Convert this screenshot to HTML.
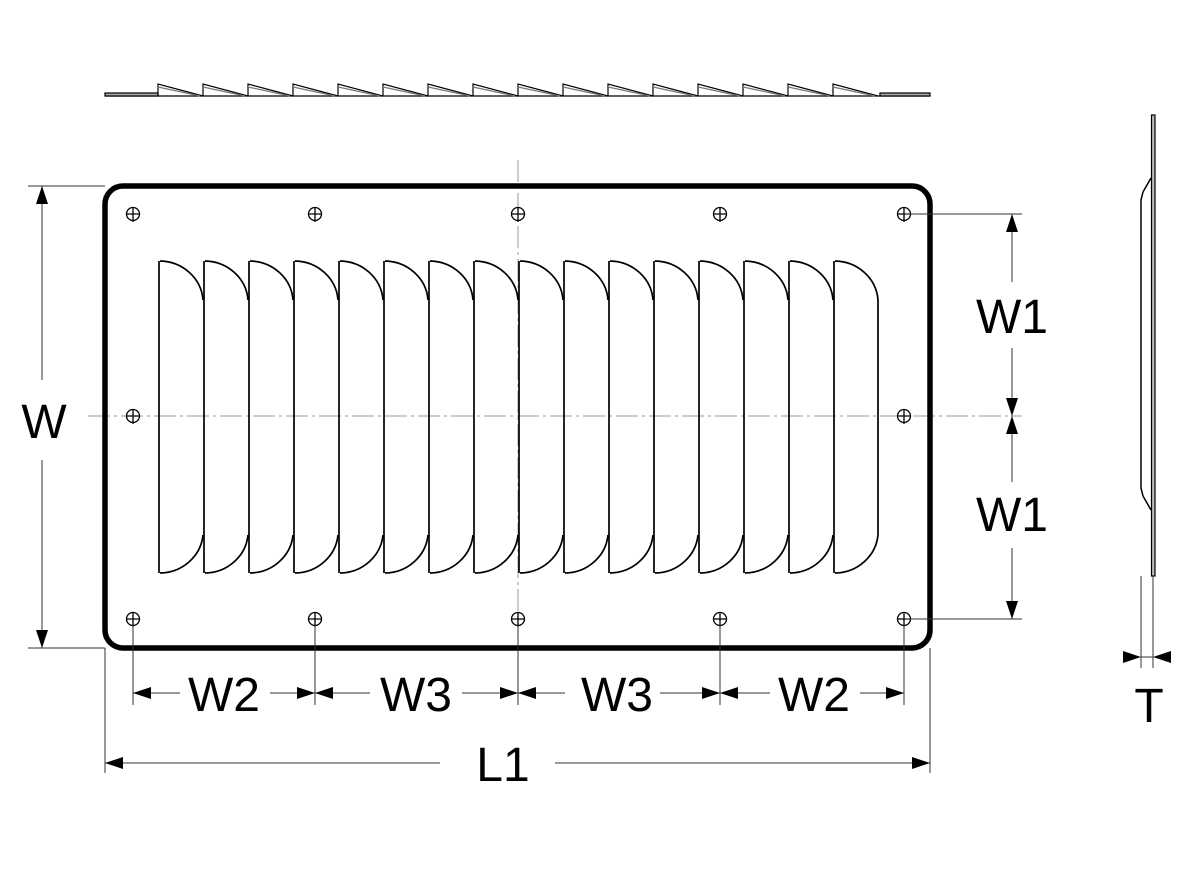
<!DOCTYPE html>
<html><head><meta charset="utf-8"><style>
body{margin:0;background:#fff}
svg{display:block}
text{font-family:"Liberation Sans",sans-serif;font-size:48px;fill:#000;text-anchor:middle}
</style></head><body>
<svg id="s" width="1200" height="880" viewBox="0 0 1200 880" xmlns="http://www.w3.org/2000/svg">
<g fill="none" stroke="#000">
<line x1="518" y1="160" x2="518" y2="662" stroke="#999" stroke-width="1" stroke-dasharray="22,4,3,4"/>
<line x1="88" y1="416" x2="1022" y2="416" stroke="#999" stroke-width="1" stroke-dasharray="22,4,3,4"/>
<rect x="105" y="186" width="825" height="462" rx="18" stroke-width="5.5"/>
<g id="louv" stroke-width="1.7"></g>
<g id="holes" stroke-width="1.3"></g>
<g id="top" stroke-width="1.2"></g>
<rect x="1151.5" y="115" width="3.5" height="461" stroke-width="1.2" fill="#bbb"/>
<path d="M1151 178 L1143 192 L1141 200 L1141 488 L1143 496 L1151 510" stroke-width="1.5"/>
<g stroke-width="1" stroke="#333">
<line x1="28" y1="186" x2="105" y2="186"/><line x1="28" y1="648" x2="105" y2="648"/>
<line x1="42" y1="186" x2="42" y2="380"/><line x1="42" y1="460" x2="42" y2="648"/>
<line x1="905" y1="214" x2="1022" y2="214"/><line x1="905" y1="619" x2="1022" y2="619"/>
<line x1="1012" y1="214" x2="1012" y2="282"/><line x1="1012" y1="348" x2="1012" y2="416"/>
<line x1="1012" y1="416" x2="1012" y2="482"/><line x1="1012" y1="548" x2="1012" y2="619"/>
<line x1="105" y1="648" x2="105" y2="773"/><line x1="930" y1="648" x2="930" y2="773"/>
<line x1="105" y1="763" x2="440" y2="763"/><line x1="555" y1="763" x2="930" y2="763"/>
<line x1="133" y1="625" x2="133" y2="705"/><line x1="315" y1="625" x2="315" y2="705"/>
<line x1="518" y1="625" x2="518" y2="705"/><line x1="720" y1="625" x2="720" y2="705"/>
<line x1="904" y1="625" x2="904" y2="705"/>
<line x1="133" y1="693" x2="180" y2="693"/><line x1="270" y1="693" x2="315" y2="693"/>
<line x1="315" y1="693" x2="370" y2="693"/><line x1="462" y1="693" x2="518" y2="693"/>
<line x1="518" y1="693" x2="565" y2="693"/><line x1="660" y1="693" x2="720" y2="693"/>
<line x1="720" y1="693" x2="770" y2="693"/><line x1="860" y1="693" x2="904" y2="693"/>
<line x1="1141" y1="576" x2="1141" y2="668"/><line x1="1153" y1="576" x2="1153" y2="668"/>
<line x1="1141" y1="657" x2="1153" y2="657"/>
</g>
</g>
<g fill="#000" id="arrows"></g>
<text x="44" y="438">W</text>
<text x="1012" y="333">W1</text>
<text x="1012" y="531">W1</text>
<text x="224" y="711">W2</text>
<text x="416" y="711">W3</text>
<text x="617" y="711">W3</text>
<text x="814" y="711">W2</text>
<text x="503" y="781">L1</text>
<text x="1149" y="722">T</text>
</svg>
<script>
var NS="http://www.w3.org/2000/svg";
function el(g,t,a){var e=document.createElementNS(NS,t);for(var k in a)e.setAttribute(k,a[k]);document.getElementById(g).appendChild(e);}
for(var i=0;i<16;i++){var x=159+45*i;
var d="M"+x+" 261 L"+x+" 573 M"+(x+1)+" 261 A44 42 0 0 1 "+(x+44)+" 300 M"+(x+44)+" 535 A44 42 0 0 1 "+(x+1)+" 573";
if(i==15)d+=" M"+(x+44)+" 300 L"+(x+44)+" 535";
el("louv","path",{d:d});}
var hx=[133,315,518,720,904],hy=[214,619];
function hole(x,y){el("holes","circle",{cx:x,cy:y,r:6.5});el("holes","path",{d:"M"+(x-6.5)+" "+y+"H"+(x+6.5)+"M"+x+" "+(y-6.5)+"V"+(y+8)});}
hx.forEach(function(x){hy.forEach(function(y){hole(x,y);});});
hole(133,416);hole(904,416);
el("top","line",{x1:105,y1:96,x2:930,y2:96});
el("top","rect",{x:105,y:93,width:53,height:3,fill:"#aaa"});
el("top","rect",{x:880,y:93,width:50,height:3,fill:"#aaa"});
for(var i=0;i<16;i++){var x=158+45*i;
el("top","path",{d:"M"+x+" 96 V84 L"+(x+45)+" 96",stroke:"#000"});
el("top","path",{d:"M"+x+" 87 L"+(x+42)+" 96",stroke:"#777"});}
function arr(x,y,dir){var L=18,h=6,p;
if(dir=="r")p=[x,y,x-L,y-h,x-L,y+h];if(dir=="l")p=[x,y,x+L,y-h,x+L,y+h];
if(dir=="d")p=[x,y,x-h,y-L,x+h,y-L];if(dir=="u")p=[x,y,x-h,y+L,x+h,y+L];
el("arrows","polygon",{points:p.join(" ")});}
arr(42,186,"u");arr(42,648,"d");
arr(1012,214,"u");arr(1012,416,"d");arr(1012,416,"u");arr(1012,619,"d");
arr(105,763,"l");arr(930,763,"r");
[[133,315],[315,518],[518,720],[720,904]].forEach(function(p){arr(p[0],693,"l");arr(p[1],693,"r");});
arr(1141,657,"r");arr(1153,657,"l");
</script>
</body></html>
